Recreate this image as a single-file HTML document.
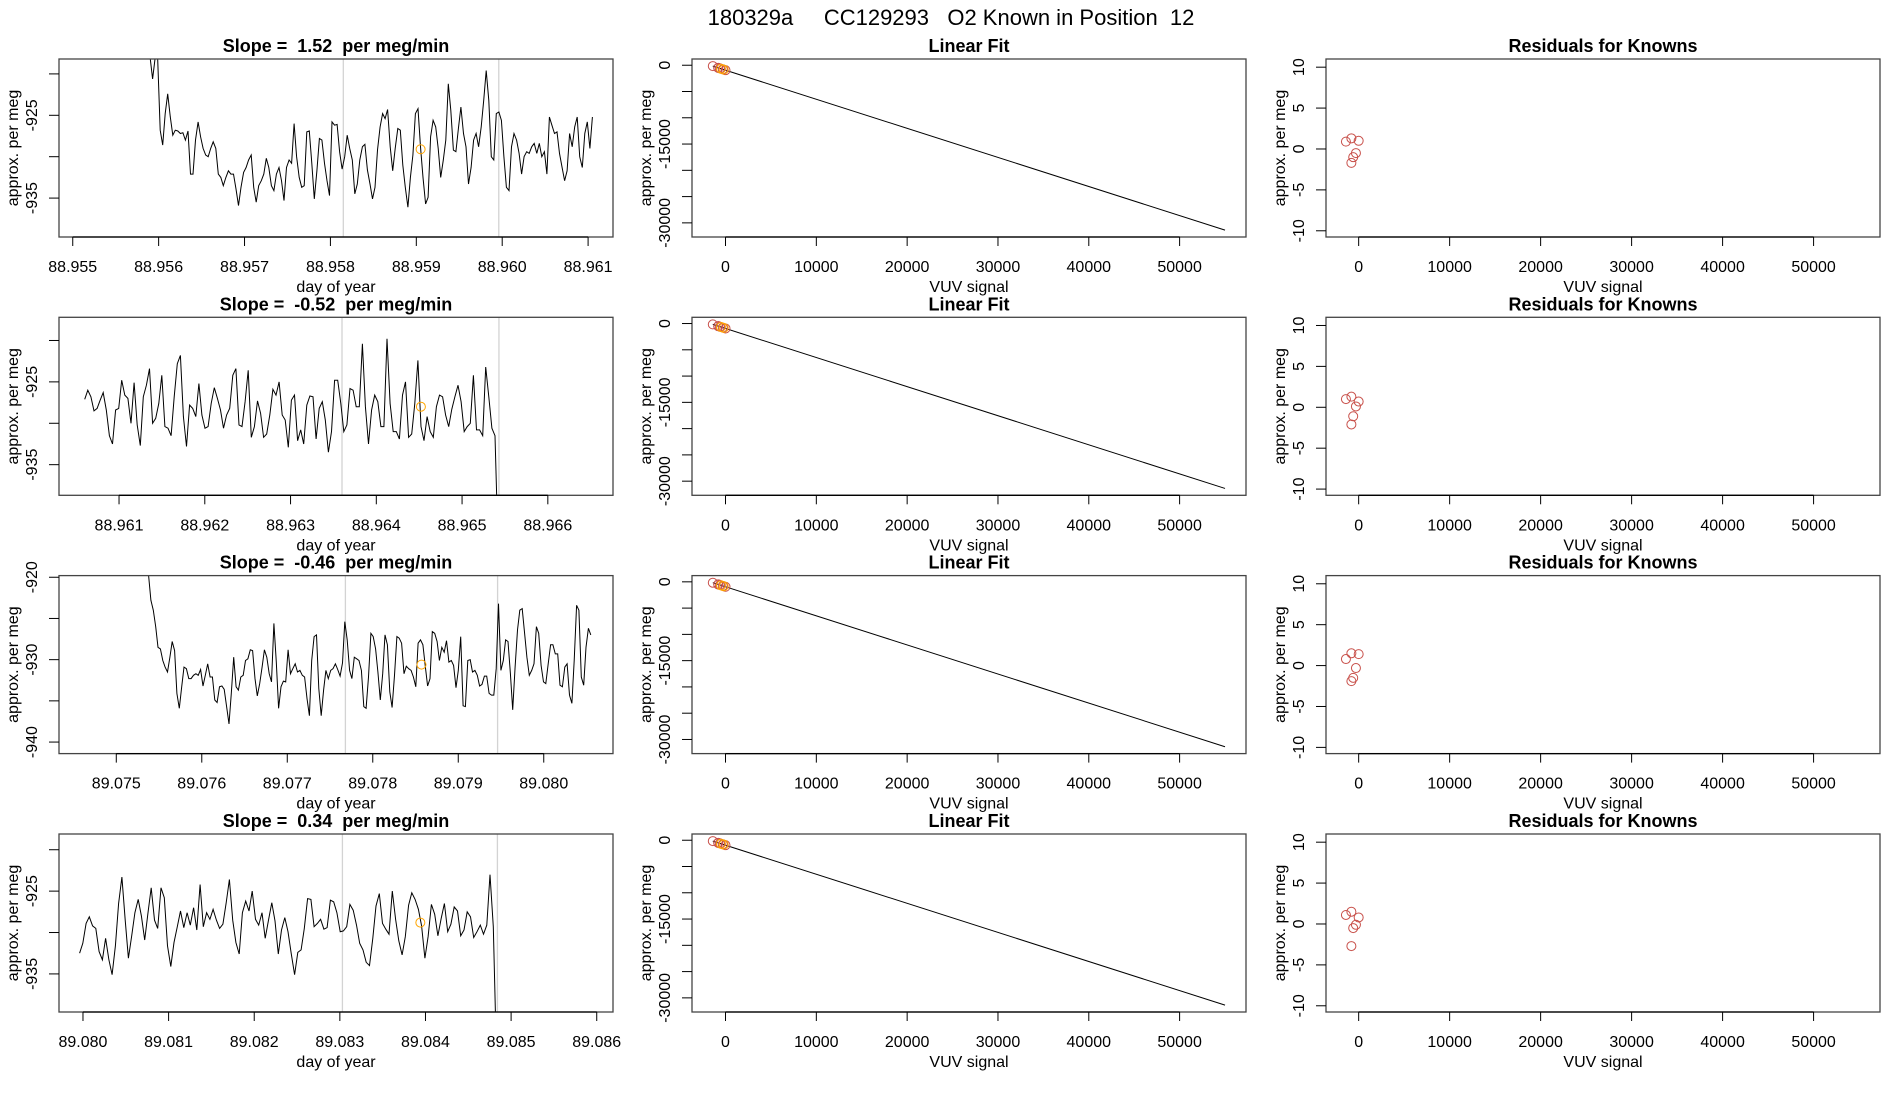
<!DOCTYPE html>
<html><head><meta charset="utf-8">
<style>
html,body{margin:0;padding:0;background:#fff;}
svg{display:block;font-family:"Liberation Sans",Arial,sans-serif;}
svg text{white-space:pre;}
</style></head>
<body>
<svg id="fig" width="1900" height="1100" viewBox="0 0 1900 1100" xmlns="http://www.w3.org/2000/svg" xml:space="preserve">
<rect width="1900" height="1100" fill="#fff"/>
<text x="951" y="25" font-size="22" text-anchor="middle">180329a     CC129293   O2 Known in Position  12</text>
</svg>
<script>
// ---- time series data (per meg) ----
const slopeLabels = ["1.52", "-0.52", "-0.46", "0.34"];
const tsStart = [88.95590, 88.96060, 89.07535, 89.07996];
const tsEnd = [88.96105, 88.96542, 89.08055, 89.08483];
const xDomMin = [88.95484, 88.96030, 89.07433, 89.07972];
const xDomMax = [88.96129, 88.96676, 89.08081, 89.08619];
const yDomMin = [-939.7, -938.7, -941.4, -939.6];
const yDomMax = [-918.2, -917.2, -919.8, -918.1];
const xTicks = [
  ["88.955","88.956","88.957","88.958","88.959","88.960","88.961"],
  ["88.961","88.962","88.963","88.964","88.965","88.966"],
  ["89.075","89.076","89.077","89.078","89.079","89.080"],
  ["89.080","89.081","89.082","89.083","89.084","89.085","89.086"]];
const yTicks = [[-935,-930,-925,-920],[-935,-930,-925,-920],[-940,-935,-930,-925,-920],[-935,-930,-925,-920]];
const yTickLabels = [["-935","","-925",""],["-935","","-925",""],["-940","","-930","","-920"],["-935","","-925",""]];
const greyLines = [[88.95815, 88.95996],[88.9636, 88.96543],[89.07768, 89.07946],[89.08303, 89.08484]];
const markX = [88.95905, 88.96452, 89.07857, 89.08394];
const markY = [-929.1, -928.0, -930.6, -928.8];
const series1 = [-917.9,-920.6,-918.1,-917.9,-926.8,-928.6,-924.8,-922.4,-925.2,-927.4,-926.8,-926.9,-927.2,-927.1,-928.0,-926.9,-932.1,-932.1,-928.0,-925.8,-927.6,-929.0,-929.8,-930.0,-929.0,-928.2,-929.0,-932.1,-932.5,-933.5,-932.5,-931.7,-932.1,-932.1,-933.9,-935.9,-933.7,-931.9,-931.3,-930.4,-929.8,-933.7,-935.5,-933.5,-932.9,-932.1,-930.2,-931.3,-933.5,-934.1,-932.1,-931.3,-932.9,-935.3,-931.3,-930.4,-930.8,-926.0,-930.0,-932.5,-933.7,-933.5,-927.0,-926.9,-930.8,-935.1,-931.7,-927.8,-928.0,-930.8,-932.9,-934.7,-925.8,-926.2,-926.1,-929.4,-931.5,-930.0,-927.4,-929.0,-930.4,-934.5,-933.3,-930.4,-928.8,-928.5,-931.6,-933.3,-935.1,-933.7,-929.2,-926.4,-924.8,-925.4,-924.3,-928.8,-931.7,-929.0,-926.6,-926.8,-931.0,-933.7,-936.1,-932.5,-929.8,-924.8,-924.2,-928.8,-932.5,-935.7,-934.9,-927.6,-925.6,-926.4,-929.0,-932.5,-930.4,-928.0,-921.2,-924.4,-929.2,-929.4,-926.6,-924.0,-927.2,-928.8,-933.3,-931.3,-928.0,-927.2,-928.8,-926.4,-923.2,-919.6,-923.2,-930.0,-930.4,-924.8,-924.6,-925.6,-930.0,-933.7,-934.1,-928.8,-927.2,-928.0,-929.6,-932.1,-930.0,-929.4,-929.6,-928.8,-928.4,-929.6,-928.4,-930.0,-929.4,-932.1,-925.2,-926.2,-927.2,-927.0,-929.6,-931.3,-932.9,-931.7,-927.2,-928.8,-926.4,-925.2,-930.0,-931.3,-927.2,-925.8,-929.0,-925.2];
const series2 = [-927.1,-926.0,-926.8,-928.5,-928.2,-927.2,-926.3,-928.4,-931.5,-932.5,-928.4,-928.2,-924.8,-926.6,-927.0,-930.0,-925.1,-930.2,-932.7,-926.8,-925.4,-923.4,-930.0,-929.4,-927.6,-924.2,-930.4,-930.6,-931.5,-926.8,-922.8,-921.8,-929.2,-932.8,-927.8,-928.2,-929.2,-925.2,-929.0,-930.6,-930.4,-927.6,-925.7,-927.0,-928.4,-930.6,-929.0,-928.2,-924.2,-923.4,-930.2,-930.4,-927.4,-923.6,-931.7,-930.4,-927.3,-928.8,-931.7,-931.3,-929.0,-925.9,-926.6,-925.0,-929.0,-929.6,-932.9,-927.2,-926.6,-932.1,-930.8,-932.5,-927.8,-926.7,-926.8,-931.9,-928.2,-927.4,-929.6,-933.5,-931.0,-924.8,-924.8,-927.6,-931.0,-930.2,-925.8,-926.0,-928.0,-928.0,-920.4,-928.0,-932.5,-928.4,-926.6,-927.4,-930.4,-930.4,-919.8,-927.6,-931.0,-931.0,-931.9,-926.6,-925.0,-931.7,-931.3,-927.6,-922.4,-930.4,-932.1,-929.2,-931.0,-931.7,-928.0,-926.6,-926.8,-929.0,-930.4,-928.3,-926.8,-925.4,-927.4,-931.0,-930.4,-930.0,-924.2,-930.8,-930.8,-931.5,-923.2,-926.8,-930.6,-931.5,-945];
const series3 = [-918.0,-919.8,-922.8,-924.0,-926.0,-928.5,-928.7,-930.1,-930.9,-931.5,-929.7,-927.8,-928.9,-934.1,-935.9,-933.3,-930.9,-931.1,-932.3,-932.3,-931.9,-931.7,-931.9,-931.2,-933.2,-931.9,-930.5,-932.1,-932.1,-934.9,-935.2,-933.3,-933.2,-933.6,-935.7,-937.8,-934.1,-929.7,-933.3,-933.7,-932.1,-931.9,-930.1,-929.9,-928.8,-928.9,-932.3,-934.4,-932.9,-930.9,-928.8,-929.7,-931.7,-932.7,-925.6,-930.3,-935.9,-933.3,-932.6,-932.7,-928.8,-931.7,-931.1,-930.5,-931.5,-931.3,-931.9,-932.1,-934.7,-936.8,-930.1,-927.2,-927.0,-933.5,-936.8,-933.7,-931.3,-932.3,-931.3,-931.1,-930.5,-931.2,-932.0,-930.4,-925.4,-927.6,-931.3,-932.3,-929.7,-929.9,-930.1,-931.3,-935.7,-935.9,-932.1,-926.8,-927.2,-928.7,-931.5,-934.9,-931.7,-927.0,-928.2,-933.9,-935.8,-931.9,-927.2,-927.4,-928.0,-931.7,-930.8,-931.1,-931.3,-932.1,-933.3,-928.0,-927.6,-928.2,-930.7,-933.2,-932.3,-926.6,-926.8,-927.8,-930.1,-928.5,-929.1,-927.7,-930.3,-930.1,-930.7,-933.4,-931.3,-927.2,-935.6,-935.7,-930.1,-930.0,-931.5,-931.3,-931.9,-933.2,-933.0,-932.0,-932.0,-934.1,-934.3,-934.3,-931.1,-923.2,-931.3,-930.1,-927.6,-927.8,-931.7,-936.1,-930.9,-926.4,-924.0,-923.8,-926.8,-929.7,-931.9,-931.3,-930.5,-926.0,-926.8,-930.7,-932.7,-932.9,-930.5,-928.2,-928.2,-929.3,-929.3,-933.1,-933.3,-930.9,-930.5,-934.3,-935.3,-930.1,-923.4,-924.0,-932.1,-933.1,-928.5,-926.2,-927.0];
const series4 = [-932.5,-931.3,-928.9,-928.1,-929.2,-929.5,-932.3,-933.3,-930.7,-933.3,-935.1,-931.6,-926.5,-923.3,-928.5,-933.1,-930.4,-927.6,-926.0,-928.0,-930.9,-927.6,-924.6,-928.5,-929.5,-924.6,-925.8,-931.6,-934.1,-931.2,-929.3,-927.4,-929.4,-927.6,-929.1,-927.0,-929.7,-924.2,-929.3,-927.6,-928.4,-927.2,-928.5,-929.5,-929.0,-926.4,-923.6,-928.5,-931.2,-932.6,-927.6,-926.2,-927.4,-925.0,-928.4,-929.1,-927.6,-930.7,-928.5,-926.4,-928.6,-932.6,-929.7,-928.2,-929.9,-932.6,-935.1,-932.4,-932.1,-929.5,-925.9,-926.0,-929.3,-928.9,-928.4,-929.6,-929.4,-926.1,-926.3,-927.6,-929.9,-929.8,-929.3,-926.6,-927.3,-929.1,-931.3,-932.1,-933.6,-934.0,-930.7,-926.8,-925.3,-928.9,-929.6,-930.2,-925.0,-928.4,-931.0,-932.7,-930.5,-926.7,-925.2,-926.0,-927.2,-929.2,-933.1,-930.5,-926.6,-927.8,-930.4,-928.3,-926.5,-929.9,-929.0,-926.9,-927.4,-930.4,-929.7,-927.5,-928.1,-930.6,-929.9,-929.1,-930.2,-929.1,-923.0,-929.3,-945];
const allSeries = [series1, series2, series3, series4];

// ---- linear fit / residual data ----
const vuvTicks = [0, 10000, 20000, 30000, 40000, 50000];
const fitYTicks = [0, -5000, -10000, -15000, -20000, -25000, -30000];
const fitYTickLabels = ["0", "", "", "-15000", "", "", "-30000"];
const fitIntercept = -940;
const fitSlope = -0.5535;
const fitLineEndX = 55000;
const knownX = [-1400, -800, -800, -600, -300, 0];
const unknownX = [-500, -200];
const resid1 = [0.9, 1.3, -1.7, -1.0, -0.5, 1.0];
const resid2 = [1.0, 1.3, -2.1, -1.1, 0.1, 0.7];
const resid3 = [0.8, 1.5, -1.9, -1.5, -0.3, 1.4];
const resid4 = [1.1, 1.5, -2.7, -0.5, -0.1, 0.8];
const allResid = [resid1, resid2, resid3, resid4];
const residYTicks = [-10, -5, 0, 5, 10];

const NS = "http://www.w3.org/2000/svg";
const svg = document.getElementById("fig");
function mk(tag, attrs, parent) {
  const e = document.createElementNS(NS, tag);
  for (const k in attrs) e.setAttribute(k, attrs[k]);
  (parent || svg).appendChild(e);
  return e;
}
function lin(d0, d1, r0, r1) { return v => r0 + (v - d0) / (d1 - d0) * (r1 - r0); }

const BOX_W = 554, BOX_H = 178;
const colLeft = [59, 692, 1326];
const rowTop = [59, 317.3, 575.6, 834];
const RED = "#c8504a";

function frame(g, L, T, title, nameBase) {
  const t = mk("text", {x: L + BOX_W / 2, y: T - 7, "font-size": 18, "font-weight": "bold", "text-anchor": "middle"}, g);
  t.textContent = title;
  
  
  const yl = mk("text", {transform: `translate(${L - 41},${T + BOX_H / 2}) rotate(-90)`, "font-size": 16, "text-anchor": "middle"}, g);
  yl.textContent = "approx. per meg";
  
  
}
function boxRect(g, L, T, nameBase) {
  const r = mk("rect", {x: L, y: T, width: BOX_W, height: BOX_H, fill: "none", stroke: "#444", "stroke-width": 1.3}, g);
  
  
}
function xAxis(g, L, T, xs, vals, labels, title, nameBase) {
  const B = T + BOX_H;
  const ax = mk("line", {x1: xs(vals[0]), x2: xs(vals[vals.length - 1]), y1: B, y2: B, stroke: "#000", "stroke-width": 1.3}, g);
  
  
  vals.forEach((v, i) => {
    const x = xs(v);
    mk("line", {x1: x, x2: x, y1: B, y2: B + 9, stroke: "#000", "stroke-width": 1}, g);
    const tl = mk("text", {x: x, y: B + 35, "font-size": 16, "text-anchor": "middle"}, g);
    tl.textContent = labels[i];
    
    
  });
  const xt = mk("text", {x: L + BOX_W / 2, y: B + 55, "font-size": 16, "text-anchor": "middle"}, g);
  xt.textContent = title;
  
  
}
function yAxis(g, L, ys, vals, labels, nameBase) {
  vals.forEach((v, i) => {
    const y = ys(v);
    mk("line", {x1: L - 10, x2: L, y1: y, y2: y, stroke: "#000", "stroke-width": 1}, g);
    if (labels[i] !== "") {
      const tl = mk("text", {transform: `translate(${L - 22},${y}) rotate(-90)`, "font-size": 16, "text-anchor": "middle"}, g);
      tl.textContent = labels[i];
      
      
    }
  });
}

for (let r = 0; r < 4; r++) {
  const T = rowTop[r];
  {
    const L = colLeft[0];
    const g = mk("g", {});
    
    
    const nb = 'timeseries-' + (r + 1);
    const xs = lin(xDomMin[r], xDomMax[r], L, L + BOX_W);
    const ys = lin(yDomMin[r], yDomMax[r], T + BOX_H, T);
    const cid = "clip" + r;
    const cp = mk("clipPath", {id: cid}, g);
    mk("rect", {x: L, y: T, width: BOX_W, height: BOX_H}, cp);
    greyLines[r].forEach(v => {
      const gl = mk("line", {x1: xs(v), x2: xs(v), y1: T, y2: T + BOX_H, stroke: "#d3d3d3", "stroke-width": 1.3}, g);
      
      
    });
    const s = allSeries[r];
    const n = s.length;
    const pts = s.map((v, i) => {
      const t = tsStart[r] + (tsEnd[r] - tsStart[r]) * i / (n - 1);
      return xs(t).toFixed(1) + "," + ys(v).toFixed(1);
    }).join(" ");
    const pl = mk("polyline", {points: pts, fill: "none", stroke: "#000", "stroke-width": 1, "clip-path": `url(#${cid})`}, g);
    
    
    const c = mk("circle", {cx: xs(markX[r]), cy: ys(markY[r]), r: 4.5, fill: "none", stroke: "#ffa500", "stroke-width": 1}, g);
    
    
    boxRect(g, L, T, nb);
    const tvals = xTicks[r].map(Number);
    xAxis(g, L, T, xs, tvals, xTicks[r], "day of year", nb);
    yAxis(g, L, ys, yTicks[r], yTickLabels[r], nb);
    frame(g, L, T, "Slope =  " + slopeLabels[r] + "  per meg/min", nb);
  }
  {
    const L = colLeft[1];
    const g = mk("g", {});
    
    
    const nb = 'linear-fit-' + (r + 1);
    const xs = lin(-3690, 57310, L, L + BOX_W);
    const ys = lin(-32690, 1186, T + BOX_H, T);
    const x0 = knownX[0];
    const fl = mk("line", {x1: xs(x0), y1: ys(fitIntercept + fitSlope * x0), x2: xs(fitLineEndX), y2: ys(fitIntercept + fitSlope * fitLineEndX), stroke: "#000", "stroke-width": 1}, g);
    
    
    knownX.forEach((kx, i) => {
      const c = mk("circle", {cx: xs(kx), cy: ys(fitIntercept + fitSlope * kx + allResid[r][i]), r: 4.5, fill: "none", stroke: RED, "stroke-width": 1}, g);
      
      
    });
    unknownX.forEach(ux => {
      const c = mk("circle", {cx: xs(ux), cy: ys(fitIntercept + fitSlope * ux), r: 4.5, fill: "none", stroke: "#ffa500", "stroke-width": 1}, g);
      
      
    });
    boxRect(g, L, T, nb);
    xAxis(g, L, T, xs, vuvTicks, vuvTicks.map(String), "VUV signal", nb);
    yAxis(g, L, ys, fitYTicks, fitYTickLabels, nb);
    frame(g, L, T, "Linear Fit", nb);
  }
  {
    const L = colLeft[2];
    const g = mk("g", {});
    
    
    const nb = 'residuals-' + (r + 1);
    const xs = lin(-3590, 57300, L, L + BOX_W);
    const ys = lin(-10.76, 11.0, T + BOX_H, T);
    knownX.forEach((kx, i) => {
      const c = mk("circle", {cx: xs(kx), cy: ys(allResid[r][i]), r: 4.5, fill: "none", stroke: RED, "stroke-width": 1}, g);
      
      
    });
    boxRect(g, L, T, nb);
    xAxis(g, L, T, xs, vuvTicks, vuvTicks.map(String), "VUV signal", nb);
    yAxis(g, L, ys, residYTicks, residYTicks.map(String), nb);
    frame(g, L, T, "Residuals for Knowns", nb);
  }
}
</script>
</body></html>
